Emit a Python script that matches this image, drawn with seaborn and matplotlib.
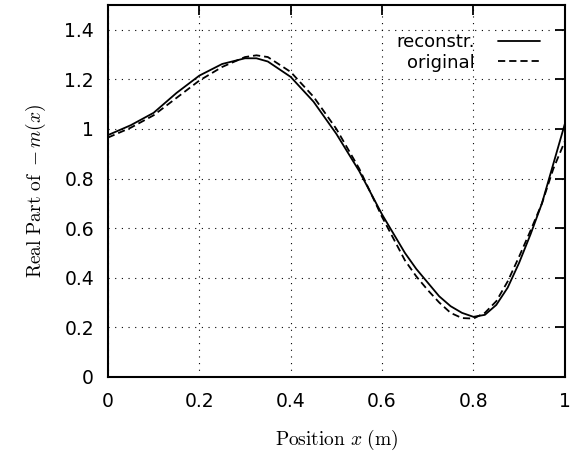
import numpy as np
import pandas as pd
import seaborn as sns
import matplotlib
matplotlib.use("Agg")
import matplotlib.pyplot as plt

# Data
x_vals = [0.00, 0.05, 0.10, 0.15, 0.20, 0.25, 0.30, 0.325, 0.35, 0.40, 0.45,
          0.50, 0.55, 0.60, 0.65, 0.675, 0.70, 0.725, 0.75, 0.775, 0.80, 0.825, 0.85,
          0.875, 0.90, 0.925, 0.95, 0.975, 1.00]
reconstr = [0.975, 1.015, 1.065, 1.145, 1.215, 1.262, 1.285, 1.285, 1.272, 1.21, 1.11,
            0.98, 0.83, 0.655, 0.50, 0.435, 0.38, 0.325, 0.285, 0.258, 0.242, 0.25, 0.29,
            0.36, 0.46, 0.575, 0.70, 0.86, 1.02]
original = [0.965, 1.005, 1.055, 1.125, 1.195, 1.25, 1.29, 1.297, 1.29, 1.23, 1.13,
            1.00, 0.84, 0.645, 0.47, 0.405, 0.35, 0.30, 0.258, 0.237, 0.235, 0.258, 0.305,
            0.385, 0.485, 0.59, 0.70, 0.84, 0.95]
x_ticks = [0, 0.2, 0.4, 0.6, 0.8, 1]
x_tick_labels = ["0", "0.2", "0.4", "0.6", "0.8", "1"]
y_ticks = [0, 0.2, 0.4, 0.6, 0.8, 1, 1.2, 1.4]
y_tick_labels = ["0", "0.2", "0.4", "0.6", "0.8", "1", "1.2", "1.4"]

sns.set_style("white")
plt.rcParams['font.family'] = ['DejaVu Sans']
plt.rcParams['mathtext.fontset'] = 'cm'
plt.rcParams['text.color'] = 'black'
plt.rcParams['axes.labelcolor'] = 'black'

df = pd.DataFrame({
    "x": x_vals * 2,
    "y": reconstr + original,
    "series": ["reconstr."] * len(x_vals) + ["original"] * len(x_vals),
})

fig = plt.figure(figsize=(5.74, 4.54), dpi=100)
ax = fig.add_axes([0.188, 0.170, 0.796, 0.819])

sns.lineplot(data=df, x="x", y="y", hue="series", style="series",
             palette={"reconstr.": "black", "original": "black"},
             dashes={"reconstr.": "", "original": (4, 2.2)},
             linewidth=1.3, ax=ax, legend=True)

ax.set_xlim(0, 1)
ax.set_ylim(0, 1.5)
ax.set_xticks(x_ticks)
ax.set_xticklabels(x_tick_labels)
ax.set_yticks(y_ticks)
ax.set_yticklabels(y_tick_labels)
ax.grid(True, linestyle=(0, (1, 5)), color="black", linewidth=0.8)
ax.tick_params(direction="in", length=7, width=1.3, top=True, right=True,
               labelsize=13.5, colors="black")
ax.tick_params(axis="x", pad=11)
ax.tick_params(axis="y", pad=10)
for s in ax.spines.values():
    s.set_linewidth(1.5)
    s.set_color("black")

ax.set_xlabel(r"$\mathrm{Position}\ x\ \mathrm{(m)}$", fontsize=14, labelpad=12, color="black")
ax.set_ylabel(r"$\mathrm{Real\ Part\ of}\ -m(x)$", fontsize=14, labelpad=12, color="black")

handles, labels = ax.get_legend_handles_labels()
leg = ax.legend(handles, labels, loc="upper right", frameon=False, fontsize=13,
                markerfirst=False, handlelength=2.3, handletextpad=1.3,
                labelspacing=0.15, borderpad=0, borderaxespad=0,
                bbox_to_anchor=(0.945, 0.925), labelcolor="black")

fig.savefig("out.png", dpi=100)
